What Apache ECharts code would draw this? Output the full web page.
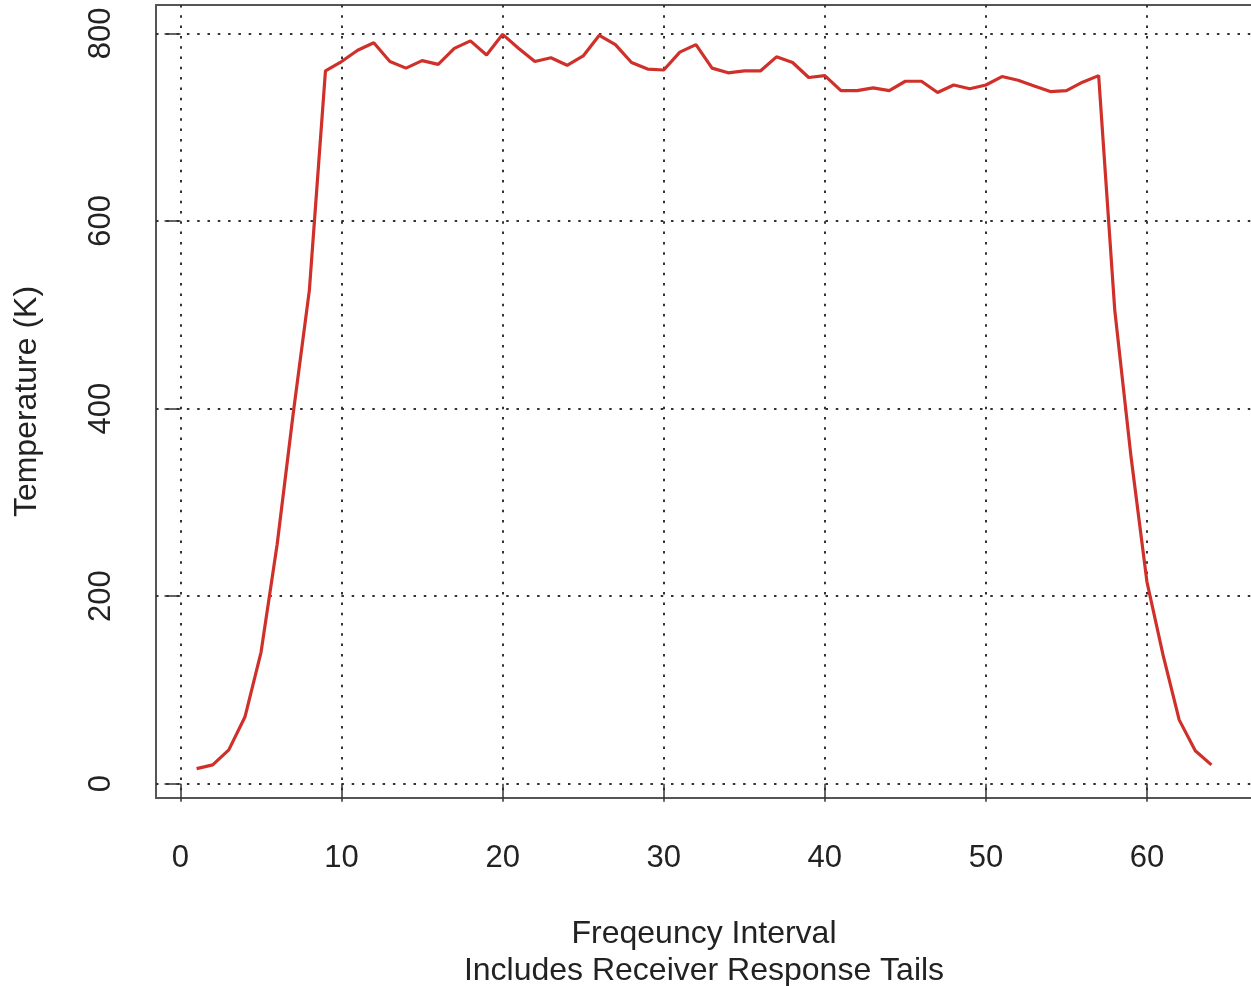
<!DOCTYPE html>
<html>
<head>
<meta charset="utf-8">
<script src="https://cdn.jsdelivr.net/npm/echarts@6/dist/echarts.min.js"></script>
<style>
  html, body { margin: 0; padding: 0; background: #fff; }
  #chart { width: 1251px; height: 986px; }
</style>
</head>
<body>
<div id="chart"></div>
<script>
// frequency interval index and temperature (K)
var intervals = [];
for (var i = 1; i <= 64; i++) intervals.push(i);
var temps = [
  16, 20, 36, 71, 140, 255, 395, 526, 760, 770,
  782, 790, 770, 763, 771, 767, 784, 792, 777, 799,
  784, 770, 774, 766, 776, 798, 788, 769, 762, 761,
  780, 788, 763, 758, 760, 760, 775, 769, 753, 755,
  739, 739, 742, 739, 749, 749, 737, 745, 741, 745,
  754, 750, 744, 738, 739, 748, 755, 505, 350, 215,
  137, 68, 35, 20
];
var xTicks = [0, 10, 20, 30, 40, 50, 60];
var yTicks = [0, 200, 400, 600, 800];

var ink = '#222';
var font = '"Liberation Sans", Arial, Helvetica, sans-serif';
var gridDots = { color: '#333', width: 2, type: [2.5, 7.8] };

var chart = echarts.init(document.getElementById('chart'), null, { renderer: 'canvas' });
chart.setOption({
  animation: false,
  backgroundColor: '#fff',
  textStyle: { fontFamily: font },
  grid: {
    left: 156, top: 5, right: -1, bottom: 188,
    outerBoundsMode: 'none',
    containLabel: false,
    show: true, borderColor: '#555', borderWidth: 2, backgroundColor: 'transparent'
  },
  xAxis: {
    type: 'value',
    min: -1.52,
    max: 66.52,
    name: 'Freqeuncy Interval\nIncludes Receiver Response Tails',
    nameLocation: 'middle',
    nameGap: 118,
    nameTextStyle: { color: ink, fontSize: 32, lineHeight: 37, fontFamily: font },
    axisLine: { show: false },
    axisTick: { show: true, length: 18, customValues: xTicks, lineStyle: { color: '#333', width: 1.5 } },
    axisLabel: { customValues: xTicks, color: ink, fontSize: 31, margin: 45, fontFamily: font },
    splitLine: { show: true, lineStyle: gridDots }
  },
  yAxis: {
    type: 'value',
    min: -15.3,
    max: 830.3,
    name: 'Temperature (K)',
    nameLocation: 'middle',
    nameRotate: 90,
    nameGap: 113,
    nameTextStyle: { color: ink, fontSize: 32, fontFamily: font },
    axisLine: { show: false },
    axisTick: { show: true, length: 16, customValues: yTicks, lineStyle: { color: '#333', width: 1.5 } },
    axisLabel: { customValues: yTicks, color: ink, fontSize: 31, rotate: 90, margin: 39, fontFamily: font },
    splitLine: { show: true, lineStyle: gridDots }
  },
  series: [{
    type: 'line',
    data: intervals.map(function(x, k) { return [x, temps[k]]; }),
    symbol: 'none',
    lineStyle: { color: '#d0302a', width: 3.2 },
    clip: false
  }]
});
window.addEventListener('resize', function() { chart.resize(); });
</script>
</body>
</html>
